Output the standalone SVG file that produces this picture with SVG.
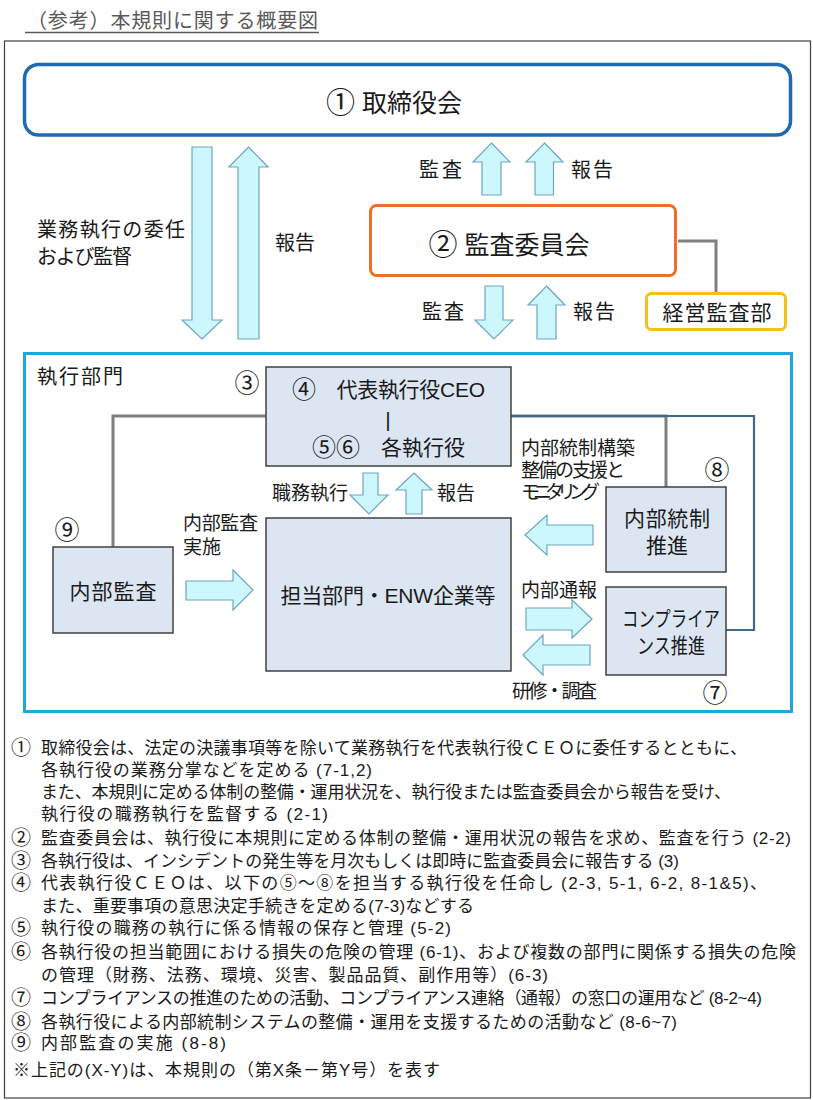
<svg xmlns="http://www.w3.org/2000/svg" width="813" height="1100" viewBox="0 0 813 1100">
<style>
text{font-family:"Liberation Sans","Noto Sans CJK JP",sans-serif;fill:#1a1a1a;dominant-baseline:central}
.t20{font-size:20px}
.t19{font-size:19px}
.t21{font-size:21px}
.t25{font-size:25px}
.c{font-size:25px}
.n{font-size:17px}
.nc{font-size:20px}
.mid{text-anchor:middle}
.box{fill:#DCE6F2;stroke:#404040;stroke-width:1.5}
.arr{fill:#CCF7FC;stroke:#6FA5C3;stroke-width:1.2;stroke-linejoin:miter}
.gray{fill:none;stroke:#7F7F7F;stroke-width:3}
.slate{fill:none;stroke:#40698C;stroke-width:2.2}
</style>
<rect width="813" height="1100" fill="#ffffff"/>
<g id="title">
<text x="27" y="21" class="t20" textLength="291" style="fill:#595959">（参考）本規則に関する概要図</text>
<line x1="25" y1="32.5" x2="319" y2="32.5" stroke="#595959" stroke-width="1.5"/>
</g>
<rect id="frame" x="4.5" y="41" width="806" height="1057" fill="none" stroke="#404040" stroke-width="1.2"/>

<g id="connectors">
<path class="gray" d="M678 241 H716 V292"/>
<path class="gray" d="M266 416 H113 V547"/>
<path class="gray" d="M511 416 H666 V487"/>
<path class="slate" d="M511 416 H754 V630 H726"/>
<polygon class="arr" points="192,147 212,147 212,320 222,320 202,339 182,320 192,320"/>
<polygon class="arr" points="248.5,147 268,167 259,167 259,339 238,339 238,167 229,167"/>
<polygon class="arr" points="491.5,143 510,162 501,162 501,195 482,195 482,162 473,162"/>
<polygon class="arr" points="544.5,143 563,162 553.5,162 553.5,195 535,195 535,162 526,162"/>
<polygon class="arr" points="485,286 503,286 503,320 513,320 494,339 475,320 485,320"/>
<polygon class="arr" points="546.5,286 565,305 556,305 556,339 537,339 537,305 528,305"/>
<polygon class="arr" points="363,473 378,473 378,495 388,495 369,514 350,495 363,495"/>
<polygon class="arr" points="414,473 432,490 422,490 422,514 406,514 406,490 396,490"/>
<polygon class="arr" points="186,581 233,581 233,570 253,590 233,610 233,600 186,600"/>
<polygon class="arr" points="593,525 547,525 547,515 525,535 547,555 547,545 593,545"/>
<polygon class="arr" points="526,608 572,608 572,600 592,619 572,638 572,630 526,630"/>
<polygon class="arr" points="590,645 543,645 543,635 523,655 543,675 543,665 590,665"/>
</g>
<g id="labels">
<text x="37" y="230" class="t20" textLength="148">業務執行の委任</text>
<text x="37" y="257" class="t20" textLength="95">および監督</text>
<text x="275" y="243" class="t20">報告</text>
<text x="419" y="170" class="t20" textLength="43">監査</text>
<text x="571" y="170" class="t20" textLength="42">報告</text>
<text x="422" y="312" class="t20" textLength="42">監査</text>
<text x="573" y="312" class="t20" textLength="42">報告</text>
<text x="272" y="493" class="t19" textLength="76">職務執行</text>
<text x="437" y="493" class="t19" textLength="38">報告</text>
<text x="521" y="448" class="t19" textLength="114">内部統制構築</text>
<text x="521" y="470" class="t19" textLength="104">整備の支援と</text>
<text x="521" y="492" class="t19" textLength="79">モニタリング</text>
<text x="183" y="523" class="t19" textLength="75">内部監査</text>
<text x="183" y="547" class="t19" textLength="38">実施</text>
<text x="521" y="590" class="t19" textLength="76">内部通報</text>
<text x="512" y="691" class="t19" textLength="85">研修・調査</text>
<text x="247" y="383" class="c mid">③</text>
<text x="717" y="470" class="c mid">⑧</text>
<text x="67" y="530" class="c mid">⑨</text>
<text x="715" y="693" class="c mid">⑦</text>
</g>

<g id="board">
<rect x="24.5" y="64.5" width="766" height="70.5" rx="14" fill="#ffffff" stroke="#1F6AB0" stroke-width="3.5"/>
<text x="394" y="103" class="t25 mid"><tspan font-size="29">①</tspan> 取締役会</text>
</g>
<g id="audit-committee">
<rect x="370.5" y="205.5" width="305" height="70" rx="6" fill="#ffffff" stroke="#E8702A" stroke-width="3"/>
<text x="509" y="245" class="t25 mid"><tspan font-size="29">②</tspan> 監査委員会</text>
</g>
<g id="mgmt-audit">
<rect x="646.5" y="293.5" width="139" height="36" rx="5" fill="#ffffff" stroke="#F5C116" stroke-width="3"/>
<text x="717" y="312" class="t21 mid" textLength="109">経営監査部</text>
</g>
<g id="exec-dept">
<rect x="24.5" y="353.5" width="767" height="358" fill="none" stroke="#1EA7DB" stroke-width="3"/>
<text x="37" y="377" class="t20" textLength="86">執行部門</text>
</g>
<g id="ceo">
<rect class="box" x="266" y="367" width="245" height="99"/>
<text x="388.5" y="389" class="t21 mid" textLength="193"><tspan font-size="24">④</tspan>　代表執行役CEO</text>
<text x="388" y="419" class="t21 mid">|</text>
<text x="388.5" y="447" class="t21 mid" textLength="153"><tspan font-size="24">⑤⑥</tspan>　各執行役</text>
</g>
<g id="dept">
<rect class="box" x="266" y="518" width="245" height="153"/>
<text x="388" y="595" class="t21 mid" textLength="215">担当部門・ENW企業等</text>
</g>
<g id="internal-audit">
<rect class="box" x="53" y="547" width="120" height="86"/>
<text x="113" y="591" class="t21 mid" textLength="87">内部監査</text>
</g>
<g id="internal-control">
<rect class="box" x="606" y="487" width="120" height="85"/>
<text x="667" y="518" class="t21 mid" textLength="86">内部統制</text>
<text x="667" y="545" class="t21 mid">推進</text>
</g>
<g id="compliance">
<rect class="box" x="606" y="587" width="120" height="88"/>
<text x="671" y="618" class="t21 mid" textLength="98" lengthAdjust="spacingAndGlyphs">コンプライア</text>
<text x="671" y="645" class="t21 mid" textLength="68" lengthAdjust="spacingAndGlyphs">ンス推進</text>
</g>

<g id="notes">
<text x="11" y="748" class="nc">①</text>
<text x="41" y="748" class="n" textLength="706">取締役会は、法定の決議事項等を除いて業務執行を代表執行役ＣＥＯに委任するとともに、</text>
<text x="41" y="770" class="n" textLength="331">各執行役の業務分掌などを定める (7-1,2)</text>
<text x="41" y="792" class="n" textLength="690">また、本規則に定める体制の整備・運用状況を、執行役または監査委員会から報告を受け、</text>
<text x="41" y="814" class="n" textLength="287">執行役の職務執行を監督する (2-1)</text>
<text x="11" y="838" class="nc">②</text>
<text x="41" y="838" class="n" textLength="750">監査委員会は、執行役に本規則に定める体制の整備・運用状況の報告を求め、監査を行う (2-2)</text>
<text x="11" y="861" class="nc">③</text>
<text x="41" y="861" class="n" textLength="638">各執行役は、インシデントの発生等を月次もしくは即時に監査委員会に報告する (3)</text>
<text x="11" y="883" class="nc">④</text>
<text x="41" y="883" class="n" textLength="726">代表執行役ＣＥＯは、以下の⑤～⑧を担当する執行役を任命し (2-3, 5-1, 6-2, 8-1&amp;5)、</text>
<text x="41" y="906" class="n" textLength="433">また、重要事項の意思決定手続きを定める(7-3)などする</text>
<text x="11" y="928" class="nc">⑤</text>
<text x="41" y="928" class="n" textLength="410">執行役の職務の執行に係る情報の保存と管理 (5-2)</text>
<text x="11" y="952" class="nc">⑥</text>
<text x="41" y="952" class="n" textLength="755">各執行役の担当範囲における損失の危険の管理 (6-1)、および複数の部門に関係する損失の危険</text>
<text x="41" y="975" class="n" textLength="507">の管理（財務、法務、環境、災害、製品品質、副作用等）(6-3)</text>
<text x="11" y="998" class="nc">⑦</text>
<text x="41" y="998" class="n" textLength="721">コンプライアンスの推進のための活動、コンプライアンス連絡（通報）の窓口の運用など (8-2~4)</text>
<text x="11" y="1022" class="nc">⑧</text>
<text x="41" y="1022" class="n" textLength="636">各執行役による内部統制システムの整備・運用を支援するための活動など (8-6~7)</text>
<text x="11" y="1043" class="nc">⑨</text>
<text x="41" y="1043" class="n" textLength="185">内部監査の実施 (8-8)</text>
<text x="13" y="1070" class="n" textLength="427">※上記の(X-Y)は、本規則の（第X条－第Y号）を表す</text>
</g>
</svg>
